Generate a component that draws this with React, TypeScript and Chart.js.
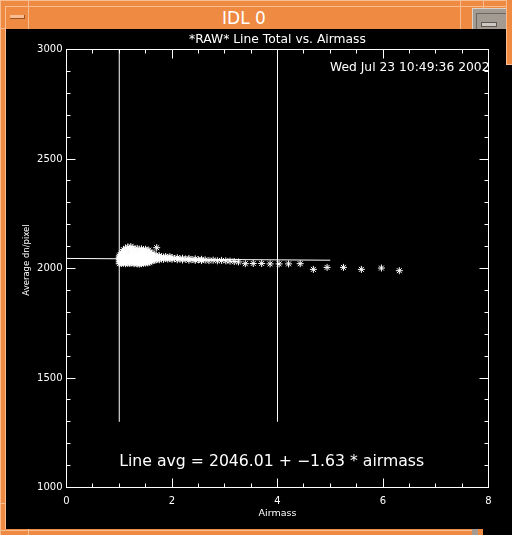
import React, { useEffect, useRef } from "react";
import { Chart, registerables } from "chart.js";

Chart.register(...registerables);

// ---- data ----
const airmassColumns = [
  1.0, 1.02, 1.04, 1.06, 1.08, 1.1, 1.12, 1.14, 1.16, 1.18,
  1.2, 1.22, 1.24, 1.26, 1.28, 1.3, 1.32, 1.34, 1.36, 1.38,
  1.4, 1.42, 1.44, 1.46, 1.48, 1.5, 1.52, 1.54, 1.56, 1.58,
  1.61, 1.64, 1.67, 1.7, 1.71, 1.73, 1.76, 1.8, 1.84, 1.88,
  1.92, 1.96, 2.0, 2.05, 2.1, 2.15, 2.2, 2.26, 2.32, 2.38,
  2.44, 2.5, 2.56, 2.63, 2.7, 2.78, 2.86, 2.94, 3.02, 3.1,
  3.18, 3.26, 3.39, 3.54, 3.7, 3.86, 4.03, 4.21, 4.43, 4.68,
  4.94, 5.25, 5.59, 5.97, 6.31,
];

const lineAvgColumns = [
  [2022, 2031, 2040, 2049, 2057],
  [2026, 2036, 2045, 2054, 2063],
  [2023, 2033, 2042, 2051, 2060, 2070],
  [2028, 2038, 2047, 2056, 2078],
  [2024, 2034, 2044, 2053, 2062, 2086],
  [2030, 2040, 2049, 2058, 2068],
  [2022, 2032, 2043, 2052, 2061, 2092],
  [2027, 2037, 2046, 2055, 2074],
  [2024, 2035, 2045, 2054, 2063, 2098],
  [2029, 2039, 2048, 2058, 2082],
  [2023, 2033, 2042, 2052, 2061, 2090],
  [2028, 2038, 2047, 2056, 2070, 2100],
  [2025, 2035, 2044, 2053, 2062, 2084],
  [2030, 2040, 2049, 2058, 2094],
  [2022, 2032, 2043, 2052, 2066, 2078],
  [2027, 2037, 2046, 2055, 2088],
  [2024, 2034, 2045, 2054, 2062, 2074],
  [2021, 2031, 2041, 2050, 2059, 2092],
  [2026, 2036, 2046, 2055, 2070],
  [2020, 2030, 2040, 2049, 2058, 2084],
  [2025, 2035, 2044, 2053, 2064, 2078],
  [2022, 2032, 2042, 2051, 2060, 2090],
  [2027, 2037, 2047, 2056, 2072],
  [2024, 2034, 2043, 2052, 2062, 2086],
  [2029, 2039, 2048, 2057, 2076],
  [2025, 2035, 2045, 2054, 2066, 2088],
  [2030, 2040, 2049, 2058, 2080],
  [2026, 2036, 2046, 2055, 2070],
  [2031, 2041, 2050, 2060, 2084],
  [2028, 2038, 2047, 2056, 2074],
  [2034, 2044, 2053, 2064],
  [2036, 2046, 2056, 2070],
  [2038, 2048, 2058],
  [2040, 2050, 2062],
  [2095],
  [2042, 2053],
  [2040, 2050, 2058],
  [2044, 2054],
  [2042, 2052],
  [2046, 2055],
  [2043, 2051],
  [2045, 2054],
  [2042, 2050],
  [2046],
  [2040, 2049],
  [2044],
  [2039, 2047],
  [2043],
  [2038, 2046],
  [2041],
  [2037, 2044],
  [2040],
  [2036, 2042],
  [2039],
  [2036],
  [2038],
  [2035],
  [2037],
  [2035],
  [2034],
  [2032],
  [2030],
  [2022],
  [2023],
  [2023],
  [2021],
  [2021],
  [2021],
  [2022],
  [1996],
  [2005],
  [2005],
  [1996],
  [2002],
  [1990],
];

const xRange = [0, 8];
const xMajorStep = 2;
const xMinorStep = 0.5;
const yRange = [1000, 3000];
const yMajorStep = 500;
const yMinorStep = 100;

const fitIntercept = 2046.01;
const fitSlope = -1.63;
const fitAirmass = [0, 5];
const markerAirmass = [1, 4];
const markerSpan = [1300, 3000];
const labelAt = [1, 1100];

const windowTitle = "IDL 0";
const plotTitle = "*RAW* Line Total vs. Airmass";
const dateStamp = "Wed Jul 23 10:49:36 2002";
const xTitle = "Airmass";
const yTitle = "Average dn/pixel";
const fitLabel = "Line avg = 2046.01 + \u22121.63 * airmass";

// ---- styling ----
const FONT = '"DejaVu Sans"';
const ORANGE = "#EE8A42";
const LIGHT = "#F8BE92";
const GRAY = "#A39A92";

const idlPlugin = {
  id: "idlDecor",
  beforeDraw(chart: any) {
    const { ctx, width, height } = chart;
    ctx.save();
    ctx.fillStyle = "#000";
    ctx.fillRect(0, 0, width, height);
    ctx.restore();
  },
  afterDraw(chart: any) {
    const { ctx, chartArea: a, scales } = chart;
    const xs = scales.x;
    const ys = scales.y;
    ctx.save();
    ctx.strokeStyle = "#fff";
    ctx.lineWidth = 1;
    ctx.strokeRect(a.left, a.top, a.right - a.left, a.bottom - a.top);
    const majLen = 9;
    const minLen = 4;
    ctx.beginPath();
    for (let v = xRange[0]; v <= xRange[1] + 1e-9; v += xMinorStep) {
      const px = Math.floor(xs.getPixelForValue(v)) + 0.5;
      const major = Math.abs(v / xMajorStep - Math.round(v / xMajorStep)) < 1e-6;
      const len = major ? majLen : minLen;
      ctx.moveTo(px, a.bottom);
      ctx.lineTo(px, a.bottom - len);
      ctx.moveTo(px, a.top);
      ctx.lineTo(px, a.top + len);
    }
    for (let v = yRange[0]; v <= yRange[1] + 1e-9; v += yMinorStep) {
      const py = Math.floor(ys.getPixelForValue(v)) + 0.5;
      const major = Math.abs(v / yMajorStep - Math.round(v / yMajorStep)) < 1e-6;
      const len = major ? majLen : minLen;
      ctx.moveTo(a.left, py);
      ctx.lineTo(a.left + len, py);
      ctx.moveTo(a.right, py);
      ctx.lineTo(a.right - len, py);
    }
    ctx.stroke();

    ctx.fillStyle = "#fff";
    const cx = (a.left + a.right) / 2;
    ctx.textBaseline = "alphabetic";
    ctx.textAlign = "center";
    ctx.font = `12.3px ${FONT}`;
    ctx.fillText(plotTitle, cx, 13.7);
    ctx.textAlign = "left";
    ctx.fillText(dateStamp, 324, 42);
    ctx.textAlign = "center";
    ctx.font = `9.5px ${FONT}`;
    ctx.fillText(xTitle, cx, 487);
    ctx.save();
    ctx.translate(23.3, 231);
    ctx.rotate(-Math.PI / 2);
    ctx.font = `8.5px ${FONT}`;
    ctx.fillText(yTitle, 0, 0);
    ctx.restore();
    ctx.textAlign = "left";
    ctx.font = `15.7px ${FONT}`;
    ctx.fillText(fitLabel, xs.getPixelForValue(labelAt[0]), ys.getPixelForValue(labelAt[1]));
    ctx.restore();
  },
};

function Box(p: { l: number; t: number; w: number; h: number; bg: string; style?: any }) {
  return (
    <div
      style={{
        position: "absolute",
        left: p.l,
        top: p.t,
        width: p.w,
        height: p.h,
        background: p.bg,
        boxSizing: "border-box",
        ...(p.style || {}),
      }}
    />
  );
}

export default function App() {
  const ref = useRef<HTMLCanvasElement>(null);

  useEffect(() => {
    const canvas = ref.current;
    if (!canvas) return;
    const points: { x: number; y: number }[] = [];
    airmassColumns.forEach((x, i) => {
      lineAvgColumns[i].forEach((v) => points.push({ x, y: v }));
    });
    const lineStyle = {
      showLine: true,
      borderColor: "#fff",
      borderWidth: 1,
      pointRadius: 0,
      fill: false,
    };
    const chart = new Chart(canvas, {
      type: "scatter",
      data: {
        datasets: [
          {
            label: "Line avg",
            data: points,
            pointStyle: "star",
            pointRadius: 3.5,
            pointBorderColor: "#fff",
            pointBackgroundColor: "#fff",
            pointBorderWidth: 1,
            showLine: false,
          } as any,
          {
            label: "fit",
            data: fitAirmass.map((x) => ({ x, y: fitIntercept + fitSlope * x })),
            ...lineStyle,
          } as any,
          ...markerAirmass.map(
            (m) =>
              ({
                label: "marker " + m,
                data: markerSpan.map((y) => ({ x: m, y })),
                ...lineStyle,
              } as any)
          ),
        ],
      },
      options: {
        animation: false,
        responsive: false,
        devicePixelRatio: 1,
        layout: { padding: { left: 0, top: 20.5, right: 17.5, bottom: 0 } },
        plugins: {
          legend: { display: false },
          title: { display: false },
          tooltip: { enabled: false },
        },
        scales: {
          x: {
            type: "linear",
            min: xRange[0],
            max: xRange[1],
            ticks: {
              stepSize: xMajorStep,
              color: "#fff",
              font: { family: "DejaVu Sans", size: 10 },
              padding: 8,
              maxRotation: 0,
              autoSkip: false,
              callback: (v: any) => String(v),
            },
            grid: { display: false, drawTicks: false },
            border: { display: false },
            afterFit(s: any) {
              s.height = 41.5;
            },
          },
          y: {
            type: "linear",
            min: yRange[0],
            max: yRange[1],
            ticks: {
              stepSize: yMajorStep,
              color: "#fff",
              font: { family: "DejaVu Sans", size: 10 },
              padding: 4,
              autoSkip: false,
              callback: (v: any) => String(v),
            },
            grid: { display: false, drawTicks: false },
            border: { display: false },
            afterFit(s: any) {
              s.width = 60.5;
            },
          },
        },
      } as any,
      plugins: [idlPlugin],
    });
    return () => chart.destroy();
  }, []);

  return (
    <div
      style={{
        position: "fixed",
        left: 0,
        top: 0,
        width: 512,
        height: 535,
        background: ORANGE,
        overflow: "hidden",
      }}
    >
      {/* window frame lines */}
      <Box l={0} t={0} w={512} h={1} bg={LIGHT} />
      <Box l={0} t={0} w={1} h={535} bg={LIGHT} />
      <Box l={5} t={6} w={501} h={1} bg={LIGHT} />
      <Box l={5} t={6} w={1} h={523} bg={LIGHT} />
      <Box l={28} t={0} w={1} h={29} bg={LIGHT} />
      <Box l={460} t={0} w={1} h={29} bg={LIGHT} />
      <Box l={483} t={0} w={1} h={8} bg={LIGHT} />
      <Box l={0} t={28} w={6} h={1} bg={LIGHT} />
      <Box l={0} t={503} w={6} h={1} bg={LIGHT} />
      <Box l={0} t={530} w={472} h={1} bg={LIGHT} />
      <Box l={28} t={529} w={1} h={6} bg={LIGHT} />
      {/* menu button */}
      <Box l={10} t={15} w={15} h={4} bg={LIGHT} style={{ borderBottom: "1px solid #9A5526", borderRight: "1px solid #9A5526" }} />
      {/* title */}
      <div
        style={{
          position: "absolute",
          left: 28,
          top: 10,
          width: 432,
          textAlign: "center",
          color: "#fff",
          fontFamily: FONT,
          fontSize: 17,
          lineHeight: "17px",
        }}
      >
        {windowTitle}
      </div>
      {/* top-right button */}
      <Box l={472} t={8} w={34} h={21} bg={GRAY} style={{ borderTop: "1px solid #DAD3CD", borderLeft: "1px solid #DAD3CD" }} />
      <Box l={476} t={13} w={30} h={16} bg={GRAY} style={{ borderTop: "1px solid #6E6660", borderLeft: "1px solid #6E6660" }} />
      <Box l={481} t={22} w={16} h={5} bg="#CFC8C2" style={{ border: "1px solid #5E5650" }} />
      {/* right strip */}
      <Box l={506} t={0} w={6} h={65} bg={ORANGE} style={{ borderLeft: `1px solid ${LIGHT}`, borderBottom: `1px solid ${LIGHT}` }} />
      <Box l={506} t={65} w={6} h={470} bg="#000" />
      <Box l={483} t={529} w={29} h={6} bg="#000" />
      <Box l={472} t={529} w={6} h={6} bg={GRAY} />
      <canvas
        ref={ref}
        width={500}
        height={500}
        style={{ position: "absolute", left: 6, top: 29, width: 500, height: 500, display: "block" }}
      />
    </div>
  );
}
